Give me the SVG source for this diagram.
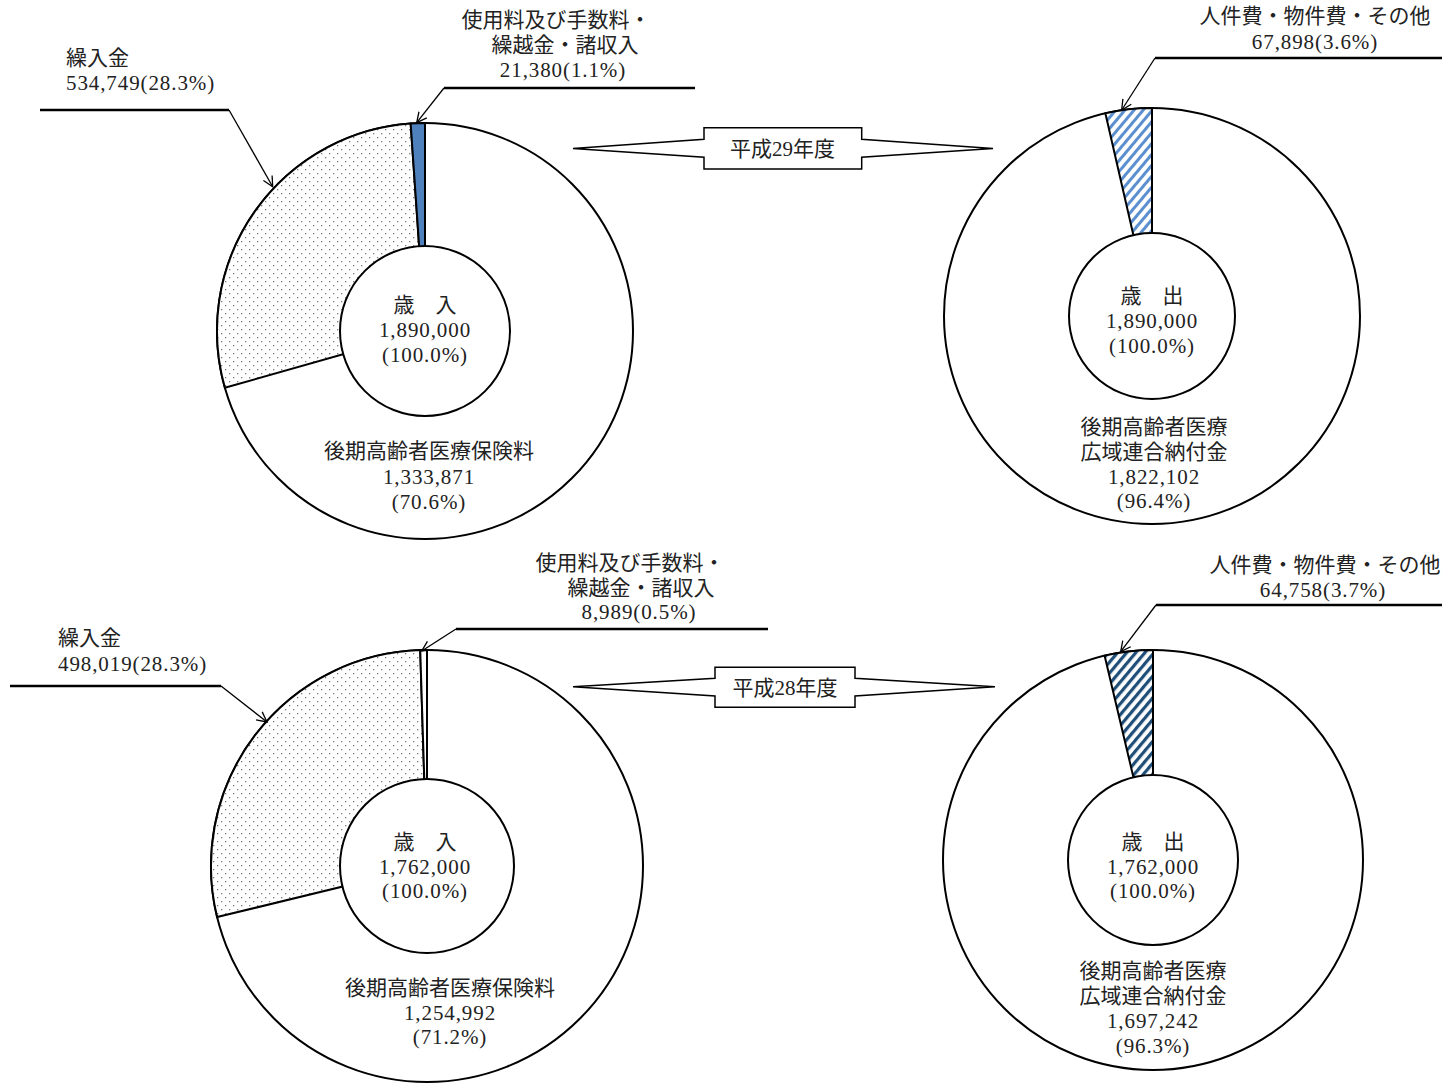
<svg xmlns="http://www.w3.org/2000/svg" width="1442" height="1083" viewBox="0 0 1442 1083">
<style>
  text { font-family: "Liberation Serif", "Noto Sans CJK JP", serif; font-size: 21px; fill: #222; dominant-baseline: central; }
  .c { text-anchor: middle; }
  .n { letter-spacing: 0.9px; }
  .ring { fill: #fff; stroke: #000; stroke-width: 2; }
  .slice { stroke: #000; stroke-width: 2; stroke-linejoin: miter; }
  .hline { fill: none; stroke: #000; stroke-width: 2.5; }
  .dline { fill: none; stroke: #000; stroke-width: 1.3; marker-end: url(#arr); }
  .banner { fill: #fff; stroke: #000; stroke-width: 1.5; }
</style>
<defs>
  <marker id="arr" viewBox="0 0 12 12" refX="11" refY="6" markerWidth="12" markerHeight="12" markerUnits="userSpaceOnUse" orient="auto">
    <path d="M1,1 L11,6 L1,11" fill="none" stroke="#000" stroke-width="1.3"/>
  </marker>
  <pattern id="dots" width="8" height="8" patternUnits="userSpaceOnUse">
    <rect width="8" height="8" fill="#fff"/>
    <rect x="1" y="1" width="1.3" height="1.3" fill="#7a7a7a"/>
    <rect x="5" y="5" width="1.3" height="1.3" fill="#7a7a7a"/>
  </pattern>
  <pattern id="hatchLight" width="7" height="7" patternUnits="userSpaceOnUse" patternTransform="rotate(40)">
    <rect width="7" height="7" fill="#fff"/>
    <rect x="0" y="0" width="3" height="7" fill="#5b8fd0"/>
  </pattern>
  <pattern id="hatchDark" width="7" height="7" patternUnits="userSpaceOnUse" patternTransform="rotate(40)">
    <rect width="7" height="7" fill="#fff"/>
    <rect x="0" y="0" width="3.2" height="7" fill="#1f4e79"/>
  </pattern>
</defs>
<rect width="1442" height="1083" fill="#fff"/>

<!-- Top-left donut: 歳入 H29 -->
<g id="donut-h29-revenue">
  <circle class="ring" cx="425" cy="331" r="208"/>
  <path class="slice" fill="url(#dots)" d="M425,331 L224.90,387.77 A208,208 0 0 1 410.64,123.50 Z"/>
  <path class="slice" fill="#4f81bd" d="M425,331 L410.64,123.50 A208,208 0 0 1 425,123 Z"/>
  <circle class="ring" cx="425" cy="331" r="85"/>
  <text class="c" x="425" y="305">歳　入</text>
  <text class="c n" x="425" y="330">1,890,000</text>
  <text class="c n" x="425" y="355">(100.0%)</text>
  <text class="c" x="429" y="451">後期高齢者医療保険料</text>
  <text class="c n" x="429" y="477">1,333,871</text>
  <text class="c n" x="429" y="502">(70.6%)</text>
</g>

<!-- Top-right donut: 歳出 H29 -->
<g id="donut-h29-expenditure">
  <circle class="ring" cx="1152" cy="316" r="208"/>
  <path class="slice" fill="url(#hatchLight)" d="M1152,316 L1105.35,113.30 A208,208 0 0 1 1152,108 Z"/>
  <circle class="ring" cx="1152" cy="316" r="83"/>
  <text class="c" x="1152" y="296">歳　出</text>
  <text class="c n" x="1152" y="321">1,890,000</text>
  <text class="c n" x="1152" y="346">(100.0%)</text>
  <text class="c" x="1154" y="427">後期高齢者医療</text>
  <text class="c" x="1154" y="452">広域連合納付金</text>
  <text class="c n" x="1154" y="477">1,822,102</text>
  <text class="c n" x="1154" y="501">(96.4%)</text>
</g>

<!-- Bottom-left donut: 歳入 H28 -->
<g id="donut-h28-revenue">
  <circle class="ring" cx="427" cy="866" r="216"/>
  <path class="slice" fill="url(#dots)" d="M427,866 L217.13,917.08 A216,216 0 0 1 420.22,650.11 Z"/>
  <path class="slice" fill="#fff" d="M427,866 L420.22,650.11 A216,216 0 0 1 427,650 Z"/>
  <circle class="ring" cx="427" cy="866" r="87"/>
  <text class="c" x="425" y="842">歳　入</text>
  <text class="c n" x="425" y="867">1,762,000</text>
  <text class="c n" x="425" y="891">(100.0%)</text>
  <text class="c" x="450" y="988">後期高齢者医療保険料</text>
  <text class="c n" x="450" y="1013">1,254,992</text>
  <text class="c n" x="450" y="1037">(71.2%)</text>
</g>

<!-- Bottom-right donut: 歳出 H28 -->
<g id="donut-h28-expenditure">
  <circle class="ring" cx="1153" cy="860" r="210"/>
  <path class="slice" fill="url(#hatchDark)" d="M1153,860 L1104.62,655.65 A210,210 0 0 1 1153,650 Z"/>
  <circle class="ring" cx="1153" cy="860" r="85"/>
  <text class="c" x="1153" y="842">歳　出</text>
  <text class="c n" x="1153" y="867">1,762,000</text>
  <text class="c n" x="1153" y="891">(100.0%)</text>
  <text class="c" x="1153" y="971">後期高齢者医療</text>
  <text class="c" x="1153" y="996">広域連合納付金</text>
  <text class="c n" x="1153" y="1021">1,697,242</text>
  <text class="c n" x="1153" y="1046">(96.3%)</text>
</g>

<!-- Year banners -->
<g id="banner-h29">
  <polygon class="banner" points="573,148.5 704,139.3 704,127.7 861.7,127.7 861.7,139.3 993,148.5 861.7,157.3 861.7,169 704,169 704,157.3"/>
  <text class="c" x="782.5" y="149">平成29年度</text>
</g>
<g id="banner-h28">
  <polygon class="banner" points="573,686.7 715,678.3 715,667.3 855,667.3 855,678.3 995,686.7 855,696 855,707.3 715,707.3 715,696"/>
  <text class="c" x="785" y="687.5">平成28年度</text>
</g>

<!-- Callout labels -->
<g id="label-h29-transfer">
  <text x="66" y="58">繰入金</text>
  <text class="n" x="66" y="83">534,749(28.3%)</text>
</g>
<g id="label-h29-fees">
  <text class="c" x="556" y="20">使用料及び手数料・</text>
  <text class="c" x="565" y="45">繰越金・諸収入</text>
  <text class="c n" x="563" y="70">21,380(1.1%)</text>
</g>
<g id="label-h29-personnel">
  <text class="c" x="1315" y="16">人件費・物件費・その他</text>
  <text class="c n" x="1315" y="42">67,898(3.6%)</text>
</g>
<g id="label-h28-transfer">
  <text x="58" y="638">繰入金</text>
  <text class="n" x="58" y="664">498,019(28.3%)</text>
</g>
<g id="label-h28-fees">
  <text class="c" x="630" y="563">使用料及び手数料・</text>
  <text class="c" x="641" y="588">繰越金・諸収入</text>
  <text class="c n" x="639" y="612">8,989(0.5%)</text>
</g>
<g id="label-h28-personnel">
  <text class="c" x="1325" y="565">人件費・物件費・その他</text>
  <text class="c n" x="1323" y="590">64,758(3.7%)</text>
</g>

<!-- Connectors -->
<g id="connectors">
  <line class="hline" x1="40" y1="110" x2="229" y2="110"/>
  <line class="dline" x1="229" y1="110" x2="272.7" y2="186.7"/>
  <line class="hline" x1="444" y1="88" x2="695" y2="88"/>
  <line class="dline" x1="444" y1="88" x2="416.7" y2="122.7"/>
  <line class="hline" x1="1155" y1="58" x2="1442" y2="58"/>
  <line class="dline" x1="1155" y1="58" x2="1121.7" y2="110"/>
  <line class="hline" x1="10" y1="686" x2="221" y2="686"/>
  <line class="dline" x1="221" y1="686" x2="267" y2="722"/>
  <line class="hline" x1="456" y1="629" x2="768" y2="629"/>
  <line class="dline" x1="456" y1="629" x2="421.7" y2="651"/>
  <line class="hline" x1="1156" y1="605" x2="1442" y2="605"/>
  <line class="dline" x1="1156" y1="605" x2="1120.7" y2="651.7"/>
</g>
</svg>
